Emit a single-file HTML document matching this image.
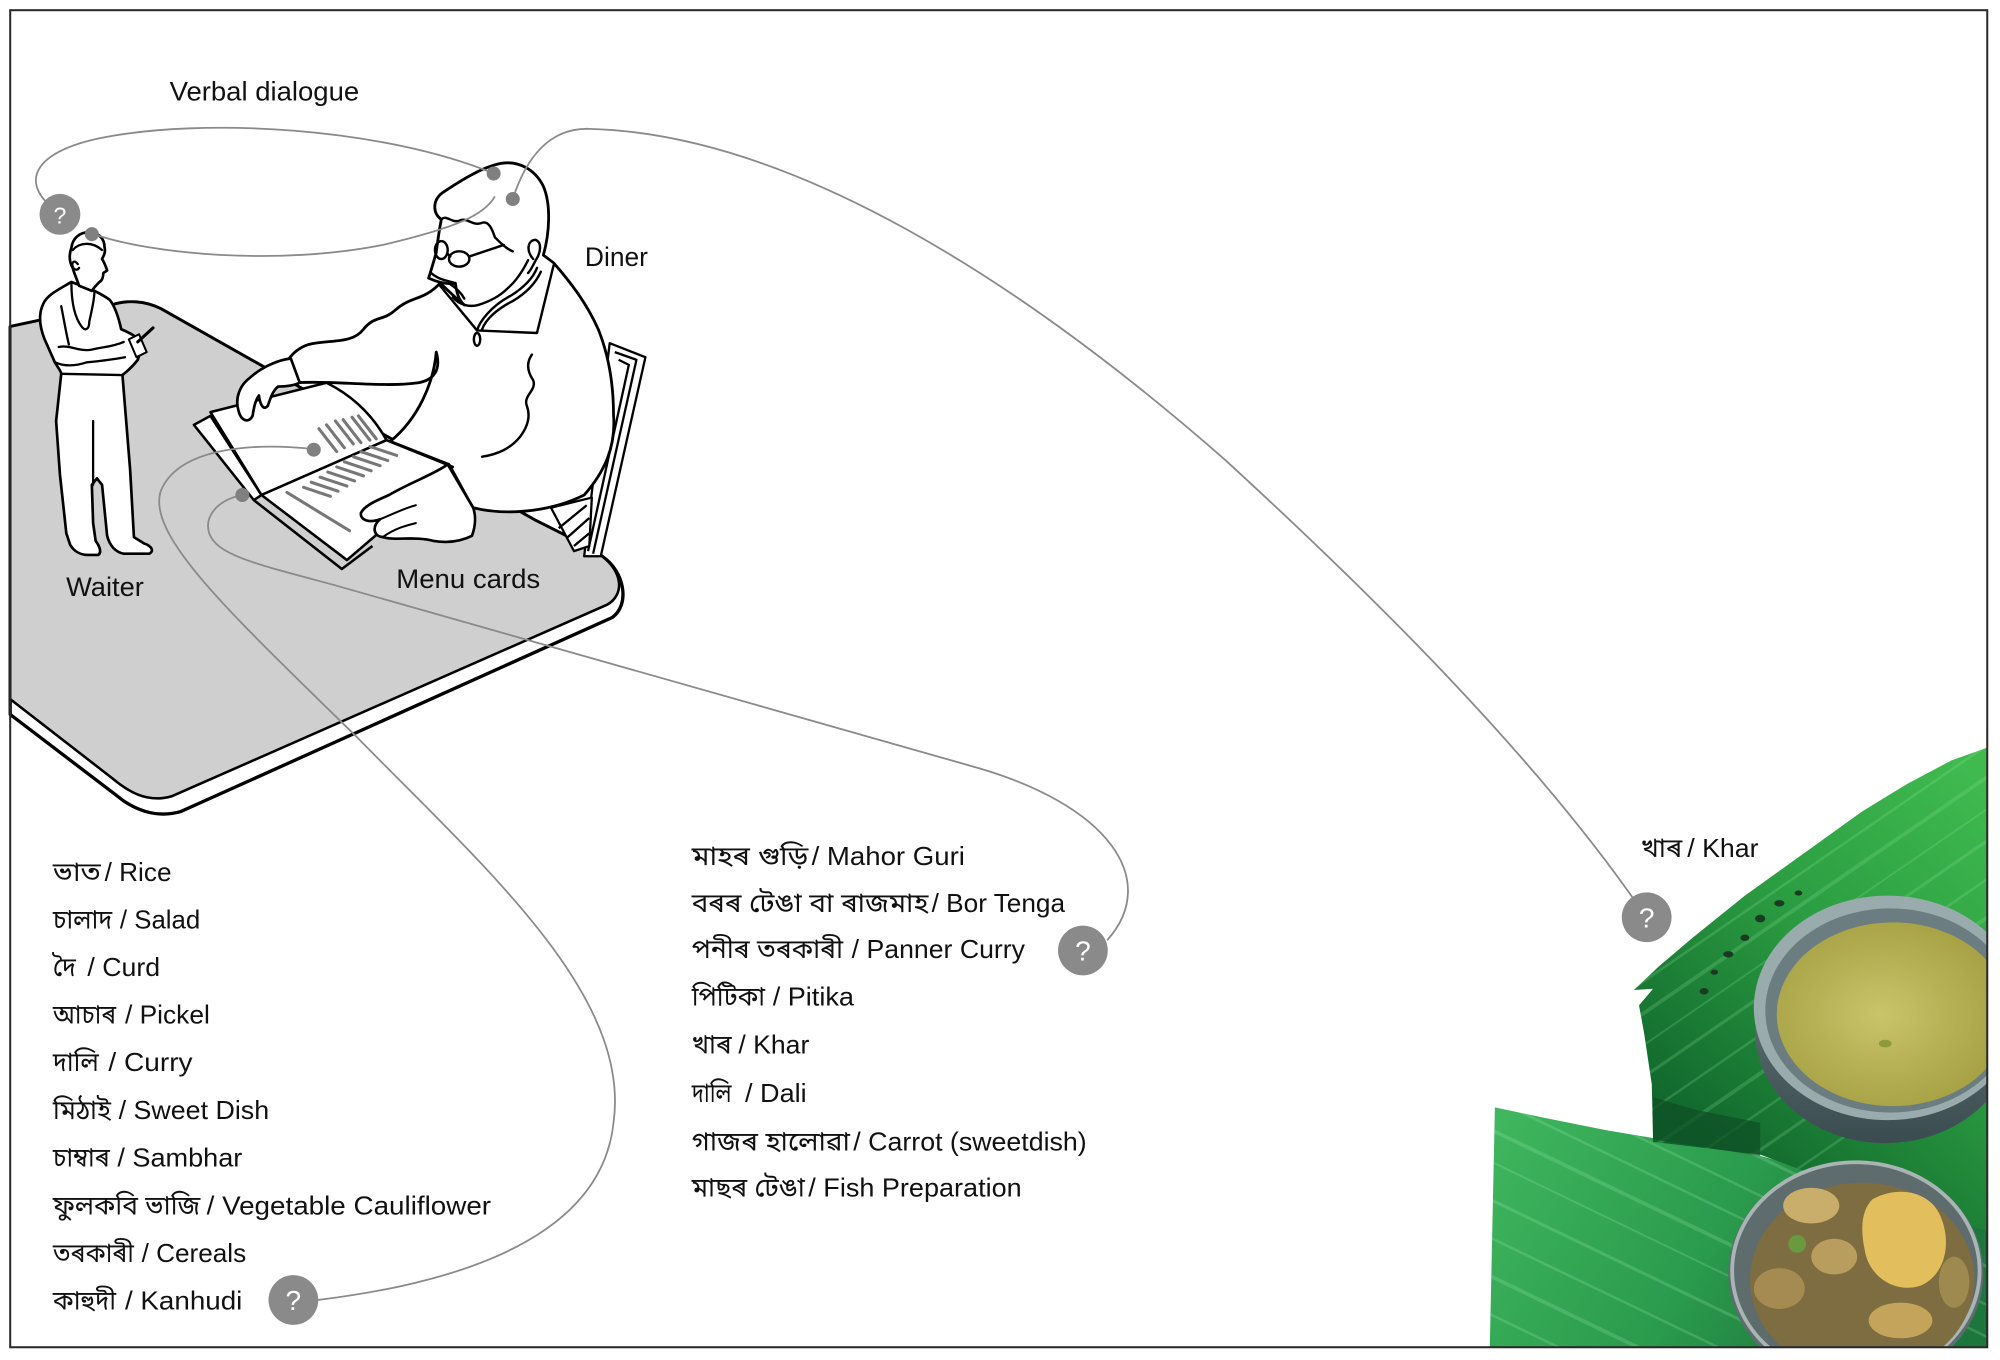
<!DOCTYPE html>
<html><head><meta charset="utf-8">
<style>
html,body{margin:0;padding:0;background:#fff;width:2000px;height:1360px;overflow:hidden;}
svg{display:block;}
.lbl{font-family:"Liberation Sans",Arial,sans-serif;fill:#111;font-size:21px;}
.bn{font-family:"Liberation Sans","Noto Sans Bengali","Lohit Assamese","Lohit Bengali",sans-serif;fill:#111;font-size:20.5px;}
.en{font-family:"Liberation Sans",Arial,sans-serif;fill:#111;font-size:20.5px;}
.q{font-family:"Liberation Sans",Arial,sans-serif;fill:#fff;font-size:22px;text-anchor:middle;}
</style></head><body>
<svg width="2000" height="1360" viewBox="0 0 1568 1066" preserveAspectRatio="none" xmlns="http://www.w3.org/2000/svg">
<defs>
 <clipPath id="frame"><rect x="8" y="8" width="1550" height="1048"/></clipPath>
 <clipPath id="topLeafClip"><path d="M1558,586 L1530,596 L1496,614 L1460,636 L1421,664 L1368,702 L1327,735 L1300,758 L1281,776 L1296,775 L1285,788 L1289,810 L1295,850 L1296,895 L1380,905 L1460,935 L1558,965 Z"/></clipPath>
 <clipPath id="botLeafClip"><path d="M1172,868 L1210,876 L1260,886 L1296,892 L1340,898 L1380,906 L1450,925 L1558,935 L1558,1056 L1168,1056 Z"/></clipPath>
 <linearGradient id="leafTop" x1="1540" y1="600" x2="1300" y2="880" gradientUnits="userSpaceOnUse">
   <stop offset="0" stop-color="#40ba4f"/>
   <stop offset="0.45" stop-color="#2c9e42"/>
   <stop offset="1" stop-color="#0f642c"/>
 </linearGradient>
 <linearGradient id="leafBot" x1="1170" y1="880" x2="1450" y2="1056" gradientUnits="userSpaceOnUse">
   <stop offset="0" stop-color="#40b65e"/>
   <stop offset="0.6" stop-color="#2a9a4c"/>
   <stop offset="1" stop-color="#1c773c"/>
 </linearGradient>
 <radialGradient id="soup" cx="0.45" cy="0.5" r="0.6">
   <stop offset="0" stop-color="#c9c36a"/>
   <stop offset="1" stop-color="#a39e40"/>
 </radialGradient>
 <linearGradient id="bowlBody" x1="0" y1="0" x2="0" y2="1">
   <stop offset="0" stop-color="#6d8084"/>
   <stop offset="1" stop-color="#3b4c50"/>
 </linearGradient>
</defs>

<rect x="0" y="0" width="1568" height="1066" fill="#fff"/>

<!-- TABLE -->
<path d="M8,256 L88,239 C100,235 114,236 126,242 L420,408 C440,418 460,428 472,436 C490,448 494,474 480,484 L142,636 C122,642 104,634 92,624 L8,560 Z" fill="#fff" stroke="#000" stroke-width="2.6" stroke-linejoin="round"/>
<path d="M8,256 L88,239 C100,235 114,236 126,242 L420,408 C440,418 460,428 472,436 C488,448 490,466 476,474 L135,624 C115,630 100,620 88,610 L8,548 Z" fill="#cfcfcf" stroke="#000" stroke-width="2" stroke-linejoin="round"/>

<!-- CHAIR -->
<g fill="none" stroke="#000" stroke-width="1.8" stroke-linejoin="round">
 <path d="M478,269 L506,280 L471,436 L458,436 Z" fill="#fff"/>
 <path d="M482,276 L499,282 L465,434"/>
 <path d="M485,282 L493,286 L461,432"/>
 <path d="M432,398 L464,390 L462,428 L450,432 Z" fill="#fff"/>
 <path d="M438,414 L460,396 M444,422 L462,406 M450,428 L462,418"/>
</g>

<!-- WAITER -->
<g stroke="#000" stroke-width="2.1" stroke-linejoin="round" stroke-linecap="round">
 <path d="M56,221 C46,227 37,231 34,238 C30,246 31,256 35,266 L43,284 C46,289 48,291 48,293 L44,330 L47,372 L52,418 L55,427 C58,432 63,435 69,435 L77,435 C80,433 78,428 75,424 L73,410 L72,380 L76,375 L80,380 L84,420 C86,428 91,433 97,434 L117,434 C121,432 119,428 113,426 L105,421 L102,368 L96,294 C101,290 105,286 108,282 L112,270 C106,262 99,260 95,258 C93,249 90,240 86,235 C82,232 78,230 74,228 Z" fill="#fff"/>
 <path d="M62,224 C60,218 58,214 57,210 C54,205 54,200 56,194 C57,187 62,182 70,182 C77,182 82,187 82,194 C83,198 81,201 80,203 C82,206 83,209 84,212 L81,214 C81,217 80,220 78,221 C76,223 74,225 72,228 Z" fill="#fff"/>
 <g fill="none" stroke-width="1.8">
  <path d="M57,196 C62,190 72,189 80,196"/>
  <path d="M61,207 C58,203 56,206 57,209 C58,212 61,212 62,210"/>
  <path d="M56,222 C56,236 58,248 64,256 C67,260 70,258 70,252 C72,243 74,235 74,229"/>
  <path d="M48,240 C50,250 52,262 54,270"/>
  <path d="M46,272 C55,270 62,276 72,274 C80,272 88,272 97,268"/>
  <path d="M43,284 C52,288 62,286 68,284 C78,283 88,282 98,280"/>
  <path d="M48,293 L96,294"/>
  <path d="M73,380 L73,330"/>
 </g>
 <path d="M101,266 L109,262 L115,276 L107,280 Z" fill="#fff" stroke-width="1.6"/>
 <path d="M108,268 L120,257" stroke-width="2.4" fill="none"/>
</g>

<!-- DINER -->
<g stroke="#000" stroke-width="2.2" stroke-linejoin="round" stroke-linecap="round">
 <path d="M345,222 C332,236 322,232 310,243 C300,252 294,247 285,258 C276,270 258,266 242,270 C236,272 230,276 226,282 L232,300 C262,298 300,304 328,300 C340,298 346,290 342,276 C340,300 328,328 306,346 L352,364 C360,378 366,390 371,398 C395,404 430,402 458,388 C474,370 483,350 481,325 C481,300 477,278 469,258 C460,238 448,222 434,206 L426,200 C431,182 432,160 426,146 C419,132 406,126 393,128 C378,131 362,141 347,151 C339,157 339,167 346,172 C344,182 343,190 342,198 C340,205 338,212 336,218 C345,222 352,223 357,222 C358,230 360,236 364,239 C355,232 350,226 345,222 Z" fill="#fff"/>
 <g fill="none" stroke-width="1.9">
  <path d="M346,172 C350,168 354,175 360,173 C366,170 370,177 377,175 C383,172 386,180 388,186 C392,190 397,195 402,197"/>
  <ellipse cx="346" cy="196" rx="5" ry="7"/>
  <ellipse cx="360" cy="203" rx="8" ry="6"/>
  <path d="M351,199 L353,201 M368,201 L395,192"/>
  <path d="M338,214 C345,220 352,220 357,222 M352,222 C358,226 362,230 364,234"/>
  <path d="M355,233 C360,239 368,241 375,239 C385,236 392,232 398,226 C405,220 410,212 414,204"/>
  <path d="M418,203 C412,196 414,188 420,188 C425,190 424,198 420,204 C418,208 416,212 414,214"/>
  <path d="M345,224 L374,259 L421,261 L434,208"/>
  <path d="M374,259 C376,252 385,240 400,232 C410,226 418,218 421,210"/>
  <path d="M378,258 C381,250 390,242 402,236 C412,230 420,222 424,213"/>
  <ellipse cx="374" cy="266" rx="2.5" ry="5"/>
  <path d="M417,278 C412,285 414,292 418,298 C421,306 410,310 413,318 C416,326 414,334 408,342 C400,352 390,356 378,358"/>
  <path d="M226,282 C230,290 232,296 234,300"/>
 </g>
</g>

<!-- BOOK -->
<g stroke="#000" stroke-width="2" stroke-linejoin="round">
 <path d="M152,333 L165,326 L205,388 L199,392 Z" fill="#fff"/>
 <path d="M165,323 L256,300 C276,310 292,325 303,345 L205,388 Z" fill="#fff"/>
 <path d="M199,392 L268,446 L292,428" fill="none"/>
 <path d="M205,388 L303,345 L355,366 L300,415 L272,439 Z" fill="#fff"/>
</g>
<g stroke="#777" stroke-width="2.4" stroke-linecap="round">
 <path d="M250,336 L264,354 M256,333 L270,351 M263,330 L277,348 M269,329 L283,347 M276,327 L290,345 M281,326 L295,344"/>
 <path d="M238,382 L259,389 M244,378 L265,385 M251,374 L272,381 M257,370 L278,377 M264,366 L285,373 M270,362 L291,369 M277,358 L298,365 M283,354 L304,361 M290,350 L311,357"/>
 <path d="M225,386 L274,416"/>
</g>

<!-- HANDS -->
<g stroke="#000" stroke-width="2.1" stroke-linejoin="round" stroke-linecap="round" fill="#fff">
 <path d="M228,281 C218,282 205,288 196,296 C188,302 184,312 187,322 C189,330 195,332 198,326 C199,320 200,314 203,310 C204,318 207,322 210,318 C212,312 214,306 218,303 C224,303 231,302 235,300 Z"/>
 <path d="M351,364 C340,372 322,378 305,388 C296,392 286,396 283,402 C282,408 290,410 298,407 C292,412 292,420 300,421 C310,424 325,420 340,424 C352,426 362,424 370,420 C373,412 373,404 371,398 Z"/>
 <path d="M298,407 C310,402 318,398 326,396 M300,421 C310,414 318,412 326,410" fill="none" stroke-width="1.6"/>
</g>

<!-- FOOD PHOTO -->
<g clip-path="url(#frame)">
 <path d="M1172,868 L1210,876 L1260,886 L1296,892 L1340,898 L1380,906 L1450,925 L1558,935 L1558,1056 L1168,1056 Z" fill="url(#leafBot)"/>
 <g clip-path="url(#botLeafClip)" stroke="#a6ecb4" stroke-opacity="0.22">
  <path d="M1168,805 L1558,993" stroke-width="2.5"/>
  <path d="M1168,835 L1558,1023" stroke-width="2"/>
  <path d="M1168,860 L1558,1048" stroke-width="2"/>
  <path d="M1168,885 L1523,1056" stroke-width="3"/>
  <path d="M1168,910 L1471,1056" stroke-width="1.5"/>
  <path d="M1168,940 L1409,1056" stroke-width="2.5"/>
  <path d="M1168,970 L1347,1056" stroke-width="2"/>
  <path d="M1168,1000 L1284,1056" stroke-width="3"/>
  <path d="M1168,1030 L1222,1056" stroke-width="2"/>
 </g>
 <path d="M1558,586 L1530,596 L1496,614 L1460,636 L1421,664 L1368,702 L1327,735 L1300,758 L1281,776 L1296,775 L1285,788 L1289,810 L1295,850 L1296,895 L1380,905 L1460,935 L1558,965 Z" fill="url(#leafTop)"/>
 <g clip-path="url(#topLeafClip)" stroke="#8ee39a" stroke-opacity="0.22">
  <path d="M1270,782 L1558,584" stroke-width="2"/>
  <path d="M1270,807 L1558,609" stroke-width="3"/>
  <path d="M1270,832 L1558,634" stroke-width="1.5"/>
  <path d="M1270,857 L1558,659" stroke-width="2.5"/>
  <path d="M1270,887 L1558,689" stroke-width="2"/>
  <path d="M1270,917 L1558,719" stroke-width="3"/>
  <path d="M1270,947 L1558,749" stroke-width="2"/>
  <path d="M1270,977 L1558,779" stroke-width="2.5"/>
  <path d="M1270,1012 L1558,814" stroke-width="2"/>
 </g>
 <g fill="#1a3a22">
  <ellipse cx="1395" cy="708" rx="4" ry="2.5"/>
  <ellipse cx="1380" cy="720" rx="4" ry="3"/>
  <ellipse cx="1368" cy="735" rx="3.5" ry="2.5"/>
  <ellipse cx="1355" cy="748" rx="4" ry="2.5"/>
  <ellipse cx="1344" cy="762" rx="3" ry="2"/>
  <ellipse cx="1336" cy="777" rx="3.5" ry="2.5"/>
  <ellipse cx="1410" cy="700" rx="3" ry="2"/>
 </g>
 <path d="M1296,860 L1330,870 L1380,880 L1380,906 L1296,893 Z" fill="#0e4f25" opacity="0.7"/>
 <!-- bowl 1 -->
 <ellipse cx="1478" cy="808" rx="102" ry="88" fill="url(#bowlBody)"/>
 <ellipse cx="1480" cy="790" rx="105" ry="88" fill="#9aabae"/>
 <ellipse cx="1482" cy="792" rx="98" ry="80" fill="#6b7d80"/>
 <ellipse cx="1484" cy="795" rx="91" ry="72" fill="url(#soup)"/>
 <ellipse cx="1478" cy="818" rx="5" ry="3" fill="#8d9a3a"/>
 <!-- bowl 2 -->
 <ellipse cx="1455" cy="998" rx="100" ry="88" fill="#5e6c6e"/>
 <ellipse cx="1455" cy="996" rx="97" ry="85" fill="none" stroke="#a9b5b5" stroke-width="3"/>
 <ellipse cx="1460" cy="1003" rx="88" ry="76" fill="#7d6d40"/>
 <ellipse cx="1420" cy="945" rx="22" ry="14" fill="#c9ad6a"/>
 <ellipse cx="1438" cy="985" rx="18" ry="14" fill="#b89d5e"/>
 <ellipse cx="1395" cy="1010" rx="20" ry="16" fill="#a58a52"/>
 <ellipse cx="1490" cy="1035" rx="25" ry="14" fill="#c4a35a"/>
 <ellipse cx="1532" cy="1005" rx="12" ry="20" fill="#9e8a4e"/>
 <path d="M1468,940 C1490,928 1515,935 1522,955 C1530,975 1525,1000 1505,1008 C1485,1014 1465,1000 1462,980 C1458,962 1460,948 1468,940 Z" fill="#e2bf5c"/>
 <circle cx="1409" cy="975" r="7" fill="#6a9a3f"/>
</g>

<!-- CONNECTORS -->
<g fill="none" stroke="#8a8a8a" stroke-width="1.4">
 <path d="M40,162 C15,140 30,118 80,108 C160,92 300,100 387,136"/>
 <path d="M388,154 C380,168 360,178 300,192 C220,208 120,200 72,183"/>
 <path d="M402,156 C412,125 430,100 462,101 C620,105 800,220 960,360 C1080,470 1200,590 1281,705"/>
 <path d="M246,352 C200,347 140,350 126,385 C115,420 180,480 280,578 C380,680 495,780 481,880 C470,985 320,1010 249,1019"/>
 <path d="M190,388 C170,392 160,405 164,418 C170,435 200,442 260,458 L760,600 C870,630 910,690 868,737"/>
</g>
<g fill="#808080">
 <circle cx="72" cy="183.5" r="5.5"/>
 <circle cx="387" cy="136" r="5.5"/>
 <circle cx="402" cy="156" r="5.5"/>
 <circle cx="246" cy="352.5" r="5.5"/>
 <circle cx="190" cy="388" r="5.5"/>
</g>
<g fill="#8a8a8a">
 <circle cx="47" cy="168" r="16"/>
 <circle cx="230" cy="1019" r="19.5"/>
 <circle cx="849" cy="745" r="19.5"/>
 <circle cx="1291" cy="719" r="19.5"/>
</g>
<text class="q" x="47" y="175" style="font-size:18px">?</text>
<text class="q" x="230" y="1027">?</text>
<text class="q" x="849" y="753">?</text>
<text class="q" x="1291" y="727">?</text>

<!-- LABELS -->
<text class="lbl" x="133" y="78.6" textLength="148.6" lengthAdjust="spacingAndGlyphs">Verbal dialogue</text>
<text class="lbl" x="458.6" y="208.5" textLength="49.4" lengthAdjust="spacingAndGlyphs">Diner</text>
<text class="lbl" x="51.8" y="467" textLength="61" lengthAdjust="spacingAndGlyphs">Waiter</text>
<text class="lbl" x="310.7" y="461" textLength="112.8" lengthAdjust="spacingAndGlyphs">Menu cards</text>

<!-- LEFT LIST -->
<text class="bn" x="41.5" y="690.5" textLength="37.5" lengthAdjust="spacingAndGlyphs">ভাত</text>
<text class="en" x="82" y="690.5" textLength="52.5" lengthAdjust="spacingAndGlyphs">/ Rice</text>
<text class="bn" x="41.5" y="727.6" textLength="46.5" lengthAdjust="spacingAndGlyphs">চালাদ</text>
<text class="en" x="94" y="727.6" textLength="63" lengthAdjust="spacingAndGlyphs">/ Salad</text>
<text class="bn" x="41.5" y="765.2" textLength="18" lengthAdjust="spacingAndGlyphs">দৈ</text>
<text class="en" x="68.5" y="765.2" textLength="57" lengthAdjust="spacingAndGlyphs">/ Curd</text>
<text class="bn" x="41.5" y="802.3" textLength="49.5" lengthAdjust="spacingAndGlyphs">আচাৰ</text>
<text class="en" x="98" y="802.3" textLength="66.5" lengthAdjust="spacingAndGlyphs">/ Pickel</text>
<text class="bn" x="41.5" y="839.4" textLength="36" lengthAdjust="spacingAndGlyphs">দালি</text>
<text class="en" x="85" y="839.4" textLength="66" lengthAdjust="spacingAndGlyphs">/ Curry</text>
<text class="bn" x="41.5" y="877.2" textLength="45.5" lengthAdjust="spacingAndGlyphs">মিঠাই</text>
<text class="en" x="93" y="877.2" textLength="118" lengthAdjust="spacingAndGlyphs">/ Sweet Dish</text>
<text class="bn" x="41.5" y="914.3" textLength="44.5" lengthAdjust="spacingAndGlyphs">চাম্বাৰ</text>
<text class="en" x="92" y="914.3" textLength="98" lengthAdjust="spacingAndGlyphs">/ Sambhar</text>
<text class="bn" x="41.5" y="951.9" textLength="115.5" lengthAdjust="spacingAndGlyphs">ফুলকবি ভাজি</text>
<text class="en" x="162" y="951.9" textLength="223" lengthAdjust="spacingAndGlyphs">/ Vegetable Cauliflower</text>
<text class="bn" x="41.5" y="989.2" textLength="63.5" lengthAdjust="spacingAndGlyphs">তৰকাৰী</text>
<text class="en" x="111" y="989.2" textLength="82" lengthAdjust="spacingAndGlyphs">/ Cereals</text>
<text class="bn" x="41.5" y="1026.3" textLength="49.5" lengthAdjust="spacingAndGlyphs">কাহুদী</text>
<text class="en" x="98" y="1026.3" textLength="92" lengthAdjust="spacingAndGlyphs">/ Kanhudi</text>

<!-- MIDDLE LIST -->
<text class="bn" x="542.3" y="678" textLength="91.4" lengthAdjust="spacingAndGlyphs">মাহৰ গুড়ি</text>
<text class="en" x="636.3" y="678" textLength="120.2" lengthAdjust="spacingAndGlyphs">/ Mahor Guri</text>
<text class="bn" x="542.3" y="714.8" textLength="185.5" lengthAdjust="spacingAndGlyphs">বৰৰ টেঙা বা ৰাজমাহ</text>
<text class="en" x="730.4" y="714.8" textLength="104.6" lengthAdjust="spacingAndGlyphs">/ Bor Tenga</text>
<text class="bn" x="542.3" y="751" textLength="118.7" lengthAdjust="spacingAndGlyphs">পনীৰ তৰকাৰী</text>
<text class="en" x="667.7" y="751" textLength="135.9" lengthAdjust="spacingAndGlyphs">/ Panner Curry</text>
<text class="bn" x="542.3" y="788" textLength="57.5" lengthAdjust="spacingAndGlyphs">পিটিকা</text>
<text class="en" x="605.8" y="788" textLength="63.7" lengthAdjust="spacingAndGlyphs">/ Pitika</text>
<text class="bn" x="542.3" y="825.7" textLength="31.3" lengthAdjust="spacingAndGlyphs">খাৰ</text>
<text class="en" x="578.9" y="825.7" textLength="55.6" lengthAdjust="spacingAndGlyphs">/ Khar</text>
<text class="bn" x="542.3" y="863.7" textLength="31.3" lengthAdjust="spacingAndGlyphs">দালি</text>
<text class="en" x="584.1" y="863.7" textLength="48.3" lengthAdjust="spacingAndGlyphs">/ Dali</text>
<text class="bn" x="542.3" y="901.6" textLength="124.1" lengthAdjust="spacingAndGlyphs">গাজৰ হালোৱা</text>
<text class="en" x="669" y="901.6" textLength="183" lengthAdjust="spacingAndGlyphs">/ Carrot (sweetdish)</text>
<text class="bn" x="542.3" y="938" textLength="88.7" lengthAdjust="spacingAndGlyphs">মাছৰ টেঙা</text>
<text class="en" x="633.7" y="938" textLength="167.3" lengthAdjust="spacingAndGlyphs">/ Fish Preparation</text>

<!-- KHAR LABEL -->
<text class="bn" x="1286.4" y="671.6" textLength="32.5" lengthAdjust="spacingAndGlyphs">খাৰ</text>
<text class="en" x="1322.8" y="671.6" textLength="55.9" lengthAdjust="spacingAndGlyphs">/ Khar</text>

<!-- FRAME -->
<rect x="8" y="8" width="1550" height="1048" fill="none" stroke="#2a2a2a" stroke-width="1.6"/>
</svg>
</body></html>
